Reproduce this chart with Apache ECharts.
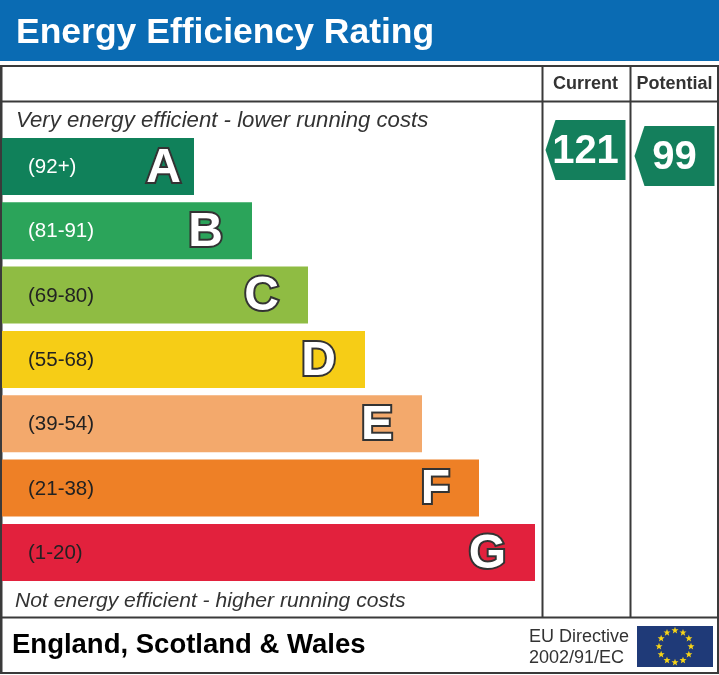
<!DOCTYPE html>
<html>
<head>
<meta charset="utf-8">
<title>Energy Efficiency Rating</title>
<style>
  html, body { margin: 0; padding: 0; background: #fff; }
  #chart { width: 719px; height: 675px; }
</style>
</head>
<body>
<div id="chart"></div>
<script src="https://cdn.jsdelivr.net/npm/echarts@6/dist/echarts.min.js"></script>
<script>
const letters = ['A', 'B', 'C', 'D', 'E', 'F', 'G'];
const ranges = ['(92+)', '(81-91)', '(69-80)', '(55-68)', '(39-54)', '(21-38)', '(1-20)'];
const barLengths = [192, 250, 306, 363, 420, 477, 533];
const barColors = ['#10815a', '#2ba45a', '#8fbc43', '#f6cd16', '#f3a96c', '#ee8026', '#e2213d'];
const rangeColors = ['#fff', '#fff', '#222', '#222', '#222', '#222', '#222'];

const columns = ['Current', 'Potential'];
const ratings = [121, 99];

const FONT = '"Liberation Sans", Arial, sans-serif';
const LINE = '#3a3a3a';

const chart = echarts.init(document.getElementById('chart'));

// 外框和分隔線
const frameLine = (x1, y1, x2, y2, w) => ({
  type: 'line',
  shape: { x1, y1, x2, y2 },
  style: { stroke: LINE, lineWidth: w || 2 },
});

const freeText = (text, x, y, font, fill) => ({
  type: 'text',
  x,
  y,
  style: { text, font, fill, verticalAlign: 'middle' },
});

// 歐盟旗的12顆星
const starShape = (cx, cy, r) => {
  const points = [];
  for (let k = 0; k < 10; k++) {
    const a = (k * Math.PI) / 5;
    const rr = k % 2 ? r * 0.42 : r;
    points.push([cx + rr * Math.sin(a), cy - rr * Math.cos(a)]);
  }
  return { type: 'polygon', shape: { points }, style: { fill: '#f7d417' } };
};
const euStars = [];
for (let i = 0; i < 12; i++) {
  const a = (i / 12) * Math.PI * 2;
  euStars.push(starShape(675 + 16 * Math.sin(a), 646.5 - 16 * Math.cos(a), 3.7));
}

chart.setOption({
  animation: false,
  backgroundColor: '#fff',
  title: {
    text: 'Energy Efficiency Rating',
    left: 11,
    top: 10,
    textStyle: { color: '#fff', fontFamily: FONT, fontWeight: 'bold', fontSize: 35.5 },
  },
  grid: [
    { left: 2, top: 134.3, width: 717, height: 450.3 },
    { left: 541, top: 100, width: 178, height: 100 },
  ],
  xAxis: [
    { type: 'value', gridIndex: 0, min: 0, max: 717, show: false },
    {
      type: 'category',
      gridIndex: 1,
      position: 'top',
      data: columns,
      axisLine: { show: false },
      axisTick: { show: false },
      axisLabel: { interval: 0, margin: 7, color: '#333', fontFamily: FONT, fontWeight: 'bold', fontSize: 18 },
    },
  ],
  yAxis: [
    { type: 'category', gridIndex: 0, inverse: true, data: letters, show: false },
    { type: 'value', gridIndex: 1, min: -62.33, max: 304.33, show: false },
  ],
  series: [
    {
      type: 'bar',
      barWidth: 57,
      data: barLengths.map((v, i) => ({
        value: v,
        itemStyle: { color: barColors[i] },
        label: { color: rangeColors[i] },
      })),
      label: {
        show: true,
        position: 'insideLeft',
        distance: 26,
        offset: [0, 1],
        fontFamily: FONT,
        fontSize: 20.5,
        formatter: (p) => ranges[p.dataIndex],
      },
    },
    {
      type: 'bar',
      barWidth: 57,
      barGap: '-100%',
      itemStyle: { color: 'transparent' },
      data: barLengths.map((v, i) => ({
        value: v,
        label: { distance: i === 0 ? 13 : 29 },
      })),
      label: {
        show: true,
        position: 'insideRight',
        offset: [0, 2],
        fontFamily: FONT,
        fontWeight: 'bold',
        fontSize: 48,
        color: '#fff',
        textBorderColor: '#333',
        textBorderWidth: 4,
        formatter: (p) => letters[p.dataIndex],
      },
    },
    {
      type: 'scatter',
      xAxisIndex: 1,
      yAxisIndex: 1,
      symbol: 'path://M10 0H80V60H10L0 30Z',
      symbolSize: [80, 60],
      symbolKeepAspect: false,
      itemStyle: { color: '#147f5c', opacity: 1 },
      data: ratings,
      label: {
        show: true,
        position: 'inside',
        offset: [0, 2],
        color: '#fff',
        fontFamily: FONT,
        fontWeight: 'bold',
        fontSize: 40,
        formatter: (p) => String(p.value),
      },
    },
  ],
  graphic: [
    { type: 'rect', shape: { x: 0, y: 0, width: 719, height: 61 }, style: { fill: '#0a6bb3' }, z: -1 },
    { type: 'group', z: 10, children: [
      frameLine(1, 66, 718, 66),
      frameLine(1, 65, 1, 674, 3),
      frameLine(718, 65, 718, 674),
      frameLine(1, 673, 718, 673),
      frameLine(1, 101.5, 718, 101.5),
      frameLine(1, 617.5, 718, 617.5),
      frameLine(542.5, 65, 542.5, 617),
      frameLine(630.5, 65, 630.5, 617),
    ] },
    freeText('Very energy efficient - lower running costs', 16, 121, 'italic 22.2px ' + FONT, '#333'),
    freeText('Not energy efficient - higher running costs', 15, 601, 'italic 21.1px ' + FONT, '#333'),
    freeText('England, Scotland & Wales', 12, 645, 'bold 27.5px ' + FONT, '#000'),
    freeText('EU Directive', 529, 637, '18px ' + FONT, '#333'),
    freeText('2002/91/EC', 529, 658, '18px ' + FONT, '#333'),
    { type: 'rect', shape: { x: 637, y: 626, width: 76, height: 41 }, style: { fill: '#1f3a78' } },
    { type: 'group', children: euStars },
  ],
});
</script>
</body>
</html>
